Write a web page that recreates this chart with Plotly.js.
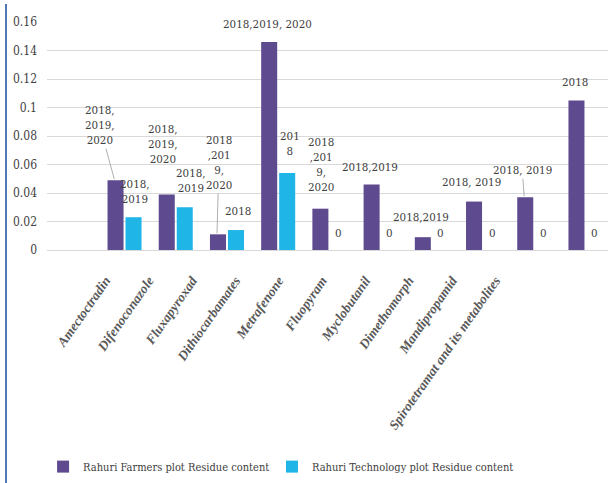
<!DOCTYPE html>
<html>
<head>
<meta charset="utf-8">
<script src="https://cdn.plot.ly/plotly-3.0.1.min.js"></script>
<style>
  html, body { margin: 0; padding: 0; background: #fff; }
  #wrap { position: relative; width: 608px; height: 483px; }
  #chart { width: 608px; height: 483px; }
  #edge { position: absolute; left: 5px; top: 4px; width: 2px; height: 479px; background: #4f78b5; }
</style>
</head>
<body>
<div id="wrap">
  <div id="chart"></div>
  <div id="edge"></div>
</div>
<script>
// ---- data ----
const categories = ["Amectoctradin", "Difenoconazole", "Fluxapyroxad", "Dithiocarbamates", "Metrafenone",
  "Fluopyram", "Myclobutanil", "Dimethomorph", "Mandipropamid", "Spirotetramat and its metabolites"];
const farmersValues = [0.049, 0.039, 0.011, 0.146, 0.029, 0.046, 0.009, 0.034, 0.037, 0.105];
const technologyValues = [0.023, 0.030, 0.014, 0.054, 0, 0, 0, 0, 0, 0];
const farmersLabels = ["2018,<br>2019,<br>2020", "2018,<br>2019,<br>2020", "2018<br>,201<br>9,<br>2020",
  "2018,2019, 2020", "2018<br>,201<br>9,<br>2020", "2018,2019", "2018,2019", "2018, 2019", "2018, 2019", "2018"];
const technologyLabels = ["2018,<br>2019", "2018,<br>2019", "2018", "201<br>8", "0", "0", "0", "0", "0", "0"];
const seriesNames = ["Rahuri Farmers plot Residue content", "Rahuri Technology plot Residue content"];
const yTickVals = [0, 0.02, 0.04, 0.06, 0.08, 0.1, 0.12, 0.14, 0.16];
const yTickText = ["0", "0.02", "0.04", "0.06", "0.08", "0.1", "0.12", "0.14", "0.16"];

// ---- label placement (pixel offsets of label centre from bar top) ----
const farmersOffsets = [[-15, -55, true], [-3, -50, false], [2, -72, true], [-1, -18, false], [2, -44, false],
  [-1, -17, false], [-1, -20, false], [-2, -20, false], [-2, -27, true], [0, -18, false]];
const technologyOffsets = [[0, -26], [5, -27], [1, -19], [2, -30], [-1, -17], [-1, -17], [-1, -17], [-1, -17], [-1, -17], [-1, -17]];

const idx = categories.map((c, i) => i);
const PURPLE = "#5e4a8e";
const CYAN = "#1fb5e6";
const barShift = 0.195;
const SERIF = "'DejaVu Serif Condensed', 'DejaVu Serif', serif";
const SERIF_IT = "'Liberation Serif', 'Times New Roman', serif";

const traces = [
  {
    type: "bar", name: seriesNames[0], x: idx, y: farmersValues, legend: "legend",
    marker: { color: PURPLE, line: { width: 0 } },
    hoverinfo: "skip"
  },
  {
    type: "bar", name: seriesNames[1], x: idx, y: technologyValues, legend: "legend2",
    marker: { color: CYAN, line: { width: 0 } },
    hoverinfo: "skip"
  },
  {
    type: "scatter", mode: "markers", x: idx, y: idx.map(() => 0), xaxis: "x2",
    marker: { opacity: 0 }, showlegend: false, hoverinfo: "skip"
  }
];

const labelFont = { family: SERIF, size: 11.5, color: "#404040" };
const annotations = [];
farmersValues.forEach((v, i) => {
  const [dx, dy, arrow] = farmersOffsets[i];
  if (arrow) {
    annotations.push({
      x: i - barShift, y: v, xref: "x", yref: "y", text: farmersLabels[i],
      showarrow: true, arrowhead: 0, arrowwidth: 0.8, arrowcolor: "#9a9a9a",
      ax: dx, ay: dy, standoff: 1, font: labelFont, align: "center"
    });
  } else {
    annotations.push({
      x: i - barShift, y: v, xref: "x", yref: "y", text: farmersLabels[i],
      showarrow: false, xshift: dx, yshift: -dy, xanchor: "center", yanchor: "middle",
      font: labelFont, align: "center"
    });
  }
});
technologyValues.forEach((v, i) => {
  const [dx, dy] = technologyOffsets[i];
  annotations.push({
    x: i + barShift, y: v, xref: "x", yref: "y", text: technologyLabels[i],
    showarrow: false, xshift: dx, yshift: -dy, xanchor: "center", yanchor: "middle",
    font: labelFont, align: "center"
  });
});

const legendFont = { family: SERIF, size: 11, color: "#404040" };
const layout = {
  width: 608, height: 483,
  margin: { l: 47, r: 0, t: 22, b: 233 },
  paper_bgcolor: "#ffffff", plot_bgcolor: "#ffffff",
  font: { family: SERIF, color: "#404040" },
  barmode: "group", bargap: 0.297, bargroupgap: 0.11,
  showlegend: true,
  legend: {
    orientation: "h", x: -0.007, xanchor: "left", y: -0.95, yanchor: "middle",
    font: legendFont, bgcolor: "rgba(0,0,0,0)"
  },
  legend2: {
    orientation: "h", x: 0.401, xanchor: "left", y: -0.95, yanchor: "middle",
    font: legendFont, bgcolor: "rgba(0,0,0,0)"
  },
  xaxis: {
    type: "linear", range: [-1.514, 9.44], tickvals: idx, showticklabels: false,
    showgrid: false, zeroline: false, showline: false, ticks: "", fixedrange: true
  },
  xaxis2: {
    type: "linear", overlaying: "x", anchor: "y", side: "bottom",
    range: [-1.35, 11.6], tickvals: idx, ticktext: categories,
    tickangle: -55, ticks: "", ticklabelstandoff: 19,
    tickfont: { family: SERIF_IT, size: 13.5, color: "#595959", weight: "bold", style: "italic" },
    showgrid: false, zeroline: false, showline: false
  },
  yaxis: {
    range: [0, 0.16], tickvals: yTickVals, ticktext: yTickText,
    showgrid: true, gridcolor: "#d9d9d9", gridwidth: 1,
    zeroline: true, zerolinecolor: "#d9d9d9", zerolinewidth: 1,
    showline: false, ticks: "", ticklabelstandoff: 9,
    tickfont: { family: SERIF, size: 12, color: "#404040" }
  },
  annotations: annotations
};

Plotly.newPlot("chart", traces, layout, { staticPlot: true, displayModeBar: false });
</script>
</body>
</html>
